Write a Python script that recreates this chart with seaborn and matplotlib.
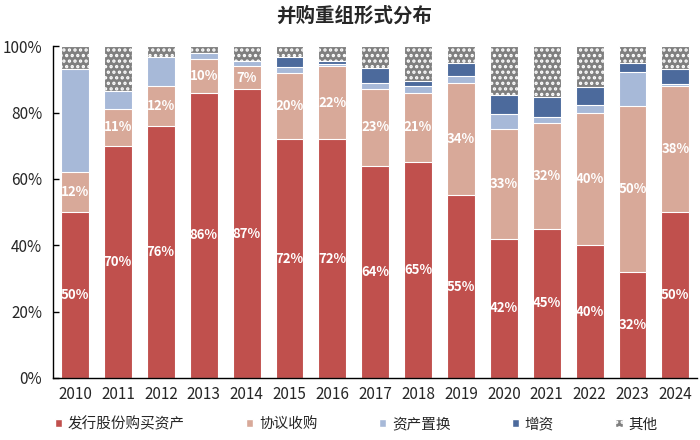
import numpy as np
import pandas as pd
import matplotlib
matplotlib.use("Agg")
import matplotlib.pyplot as plt
import seaborn as sns
from matplotlib.patches import Patch

years = [str(y) for y in range(2010, 2025)]
issue_shares = [50, 70, 76, 86, 87, 72, 72, 64, 65, 55, 42, 45, 40, 32, 50]
agreement = [12, 11, 12, 10, 7, 20, 22, 23, 21, 34, 33, 32, 40, 50, 38]
asset_swap = [31, 5.5, 8.6, 2, 1.5, 1.6, 0.5, 2, 2, 2, 4.5, 1.7, 2.3, 10.3, 0.5]
capital_inc = [0, 0, 0, 0, 0, 3, 1, 4.4, 1.5, 4, 5.7, 6, 5.5, 2.5, 4.5]

series_names = ["发行股份购买资产", "协议收购", "资产置换", "增资", "其他"]
colors = ["#C0504D", "#D8A999", "#A7B9D8", "#4C6A9C", "#7F7F7F"]

df = pd.DataFrame({
    "year": years,
    series_names[0]: issue_shares,
    series_names[1]: agreement,
    series_names[2]: asset_swap,
    series_names[3]: capital_inc,
})
df[series_names[4]] = 100 - df[series_names[:4]].sum(axis=1)

sns.set_theme(style="white")
plt.rcParams["font.family"] = ["Noto Sans CJK SC", "DejaVu Sans"]
plt.rcParams["hatch.linewidth"] = 1.6

fig = plt.figure(figsize=(7, 4.4), dpi=100)
ax = fig.add_axes([0.076, 0.141, 0.92, 0.754])

# stacked bars: draw cumulative totals from the top layer down
cum = df[series_names].cumsum(axis=1)
for i in range(len(series_names) - 1, -1, -1):
    kw = dict(hatch="...", edgecolor="white") if i == 4 else dict(edgecolor="white")
    sns.barplot(x=df["year"], y=cum[series_names[i]], color=colors[i],
                width=0.65, saturation=1, linewidth=0.8, ax=ax, **kw)

# percentage labels for the two main series
for j in range(len(years)):
    r = df[series_names[0]][j]
    a = df[series_names[1]][j]
    ax.text(j, r / 2, f"{r:.0f}%", ha="center", va="center", color="white",
            fontsize=9.5, fontweight="bold")
    ax.text(j, r + a / 2, f"{a:.0f}%", ha="center", va="center", color="white",
            fontsize=9.5, fontweight="bold")

ax.set_xlim(-0.51, len(years) - 0.49)
ax.set_ylim(0, 100)
ax.set_yticks(np.arange(0, 101, 20))
ax.set_yticklabels([f"{v}%" for v in range(0, 101, 20)], fontsize=11)
ax.tick_params(axis="x", labelsize=11, length=0, pad=6)
ax.tick_params(axis="y", left=True, direction="in", length=4, width=1,
               color="black", pad=8)
ax.set_xlabel("")
ax.set_ylabel("")
for s in ["top", "right"]:
    ax.spines[s].set_visible(False)
for s in ["left", "bottom"]:
    ax.spines[s].set_color("black")
    ax.spines[s].set_linewidth(1)

fig.suptitle("并购重组形式分布", fontsize=14, fontweight="bold", x=0.506, y=0.985)

handles = [Patch(facecolor=colors[i], edgecolor="white",
                 hatch="..." if i == 4 else None) for i in range(5)]
fig.legend(handles, series_names, loc="center left", bbox_to_anchor=(0.078, 0.036),
           ncol=5, frameon=False, fontsize=10.5, handlelength=0.5, handleheight=0.5,
           handletextpad=0.4, columnspacing=4.2, borderpad=0, borderaxespad=0)

fig.savefig("out.png", dpi=100)
